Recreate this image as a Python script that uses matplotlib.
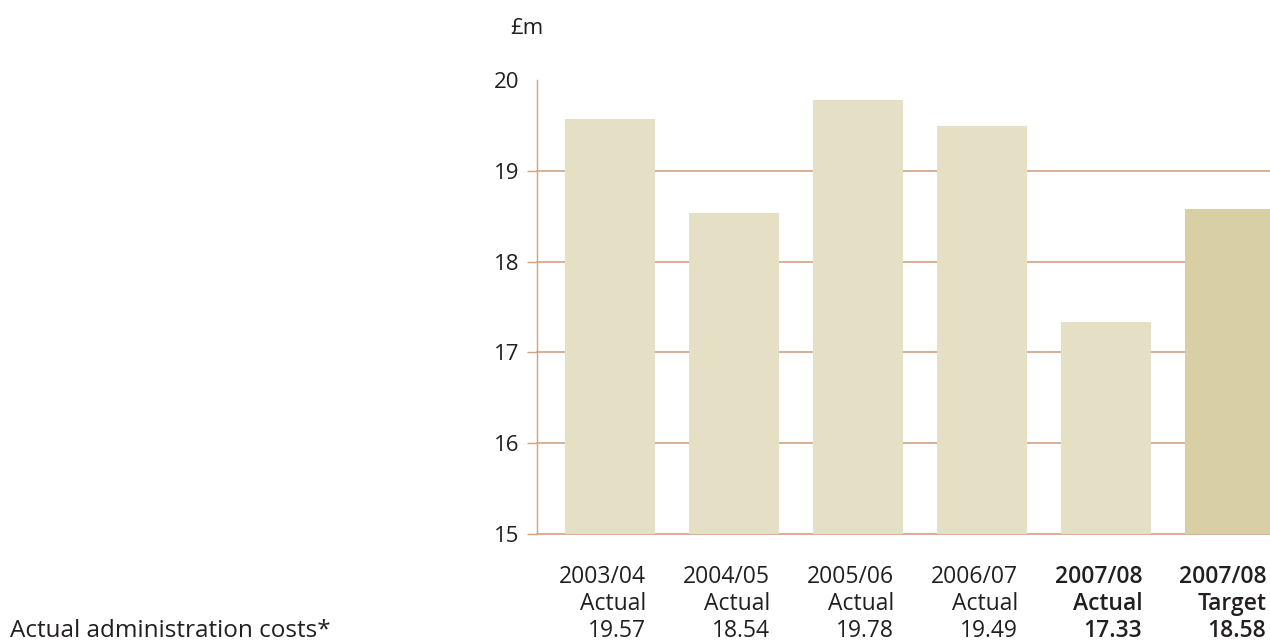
import matplotlib
matplotlib.use("Agg")
import matplotlib.pyplot as plt
import matplotlib.transforms as mtransforms

years = ["2003/04", "2004/05", "2005/06", "2006/07", "2007/08", "2007/08"]
kinds = ["Actual", "Actual", "Actual", "Actual", "Actual", "Target"]
values = [19.57, 18.54, 19.78, 19.49, 17.33, 18.58]
bold = [False, False, False, False, True, True]
bar_colors = ["#e5dfc6", "#e5dfc6", "#e5dfc6", "#e5dfc6", "#e5dfc6", "#d8cfa5"]
yticks = [15, 16, 17, 18, 19, 20]
row_label = "Actual administration costs*"
unit_label = "£m"

plt.rcParams['font.family'] = ['Open Sans', 'DejaVu Sans']
txt = "#231f20"
grid_c = "#d2a283"
FS = 16

fig = plt.figure(figsize=(12.7, 6.44), dpi=100)
ax = fig.add_axes([537/1270, 1-534/644, 1-537/1270, (534-80)/644])
x = list(range(len(values)))
ax.bar(x, values, width=0.725, bottom=0, color=bar_colors, zorder=2)
ax.set_ylim(15, 20)
ax.set_xlim(-0.59, 5.32)
ax.set_yticks(yticks)
for t in yticks[:-1]:
    ax.axhline(t, color=grid_c, linewidth=1.2, zorder=1, clip_on=False)
for s in ["top", "right", "bottom"]:
    ax.spines[s].set_visible(False)
ax.spines["left"].set_color(grid_c)
ax.spines["left"].set_linewidth(1.0)
ax.tick_params(axis="y", length=7, color=grid_c, width=1.0, labelsize=FS,
               labelcolor=txt, pad=6)
ax.yaxis.get_major_ticks()[-1].tick1line.set_visible(False)
ax.set_xticks([])

trans = mtransforms.blended_transform_factory(ax.transData, fig.transFigure)
for i, (yr, k, v, b) in enumerate(zip(years, kinds, values, bold)):
    xr = i + 0.29
    fw = "semibold" if b else "normal"
    for j, s in enumerate([yr, k, f"{v:.2f}"]):
        ax.text(xr, 1 - (577 + 27 * j) / 644, s, transform=trans, ha="right",
                va="center", fontsize=16.5, color=txt, fontweight=fw, clip_on=False)

fig.text(10/1270, 1 - 631/644, row_label, ha="left", va="center", fontsize=17.5,
         color=txt)
fig.text(510/1270, 1 - 28/644, unit_label, ha="left", va="center", fontsize=FS,
         color=txt)

fig.savefig("out.png", dpi=100)
